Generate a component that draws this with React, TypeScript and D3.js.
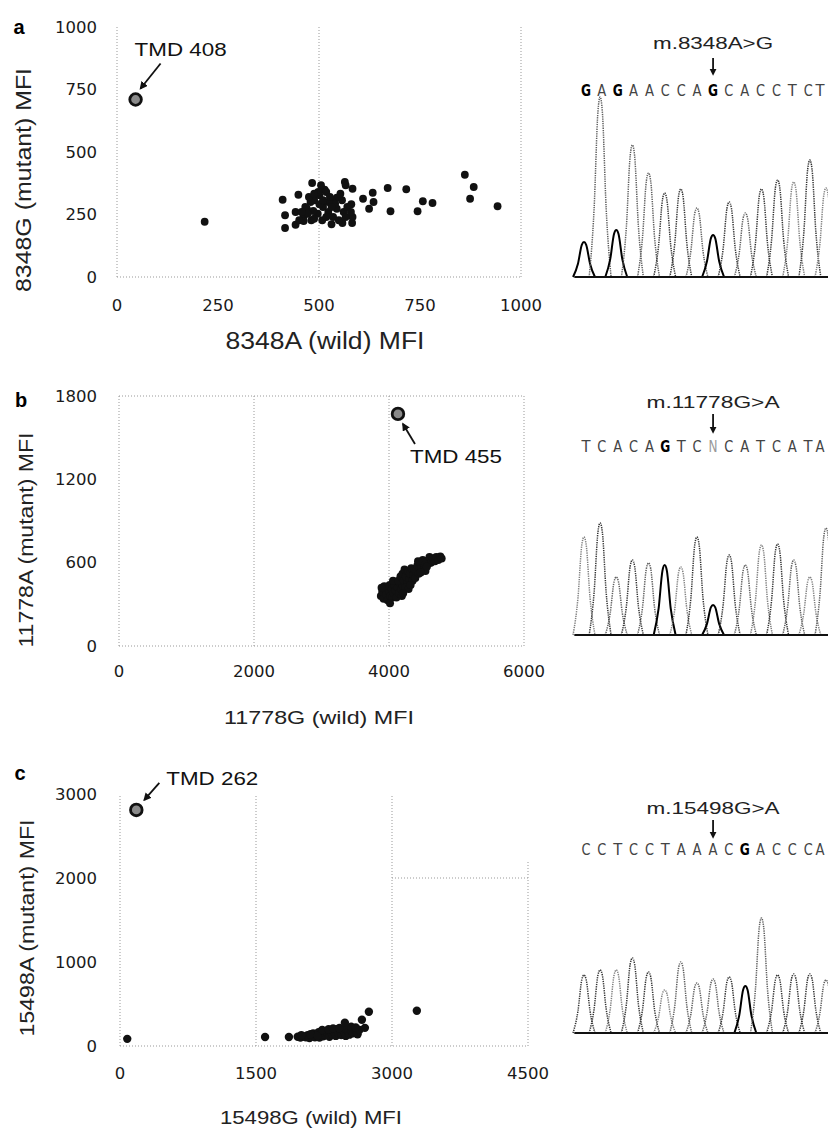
import React from 'react';
import * as d3 from 'd3';

// ---------- DATA ----------
// Panel a: 8348A (wild) vs 8348G (mutant) MFI
const aOutlier: [number, number] = [46, 710];
const aPoints: [number, number][] = [
  [217, 221], [410, 309], [416, 247], [416, 196], [449, 329], [442, 260], [442, 209],
  [609, 313], [633, 337], [635, 300], [624, 273], [670, 356], [677, 263], [716, 351],
  [744, 263], [757, 303], [781, 296], [861, 409], [883, 360], [874, 313], [942, 283],
  [483, 376], [514, 349], [564, 380], [583, 353], [544, 317], [531, 307], [580, 291],
  [583, 240], [582, 216], [558, 216], [531, 211], [508, 227], [481, 227], [462, 243],
  [470, 273], [488, 307], [501, 327], [510, 280], [523, 260], [544, 273], [561, 260],
  [570, 280], [557, 307], [479, 300], [466, 280], [497, 253], [488, 233], [505, 367],
  [518, 340], [535, 240], [549, 227], [566, 240], [579, 260], [540, 293], [523, 300],
  [501, 291], [486, 264], [472, 253], [462, 224], [451, 227], [457, 260], [475, 320],
  [510, 307], [527, 320], [553, 333], [566, 367], [498, 340], [488, 333], [518, 240],
  [531, 280],
];
const aXTicks = [0, 250, 500, 750, 1000];
const aYTicks = [0, 250, 500, 750, 1000];

// Panel b: 11778G (wild) vs 11778A (mutant) MFI
const bOutlier: [number, number] = [4133, 1671];
const bPoints: [number, number][] = [
  [3880, 360], [3900, 390], [3920, 340], [3950, 410], [3960, 370], [3980, 330], [4000, 395],
  [4010, 440], [4020, 360], [4040, 410], [4050, 350], [4070, 380], [4080, 440], [4100, 400],
  [4110, 350], [4130, 420], [4150, 380], [4160, 460], [4180, 410], [4190, 360], [4200, 440],
  [3930, 430], [3890, 420], [4060, 470], [4140, 470], [4015, 308],
  [4170, 500], [4200, 520], [4220, 470], [4230, 550], [4250, 500], [4270, 450], [4280, 540],
  [4300, 480], [4310, 520], [4330, 560], [4350, 470], [4360, 510], [4380, 550], [4390, 490],
  [4240, 420], [4290, 410], [4320, 440], [4210, 380],
  [4400, 540], [4420, 580], [4440, 520], [4460, 600], [4480, 560], [4500, 620], [4520, 580],
  [4540, 540], [4560, 610], [4580, 590], [4600, 640], [4620, 600], [4650, 630], [4680, 610],
  [4700, 640], [4730, 620], [4760, 645], [4780, 630], [4470, 530], [4510, 600], [4430, 610],
  [4560, 570],
];
const bXTicks = [0, 2000, 4000, 6000];
const bYTicks = [0, 600, 1200, 1800];

// Panel c: 15498G (wild) vs 15498A (mutant) MFI
const cOutlier: [number, number] = [180, 2810];
const cPoints: [number, number][] = [
  [80, 85], [1600, 108], [1863, 108],
  [1960, 110], [1990, 100], [2020, 115], [2050, 105], [2070, 130], [2090, 95], [2110, 120],
  [2130, 150], [2150, 105], [2170, 130], [2190, 165], [2200, 100], [2220, 140], [2240, 115],
  [2260, 170], [2270, 130], [2290, 150], [2310, 110], [2320, 185], [2340, 140], [2360, 165],
  [2380, 120], [2390, 200], [2410, 150], [2430, 175], [2440, 130], [2460, 190], [2480, 150],
  [2490, 120], [2500, 200], [2520, 165], [2530, 135], [2550, 180], [2570, 150], [2590, 200],
  [2610, 170], [2620, 140], [2640, 190], [2000, 130], [2100, 140], [2180, 120], [2230, 190],
  [2300, 200], [2350, 210], [2420, 215], [2550, 230], [2600, 220],
  [2480, 276], [2668, 312], [2701, 216], [2745, 408], [3274, 420],
];
const cXTicks = [0, 1500, 3000, 4500];
const cYTicks = [0, 1000, 2000, 3000];

// Chromatograms: base calls and peak heights
const seqA = 'GAGAACCAGCACCTCT';
const peaksA = [35, 180, 47, 132, 104, 84, 88, 69, 42, 75, 64, 88, 97, 95, 117, 89];
const seqB = 'TCACAGTCNCATCATA';
const peaksB = [98, 112, 58, 75, 72, 70, 68, 98, 30, 80, 70, 90, 91, 75, 58, 107];
const seqC = 'CCTCCTAAACGACCCA';
const peaksC = [58, 63, 63, 75, 61, 43, 71, 50, 54, 56, 47, 115, 58, 59, 59, 53];

// ---------- LAYOUT ----------
const W = 828;
const H = 1129;
const TXT = "'Liberation Sans', Arial, Helvetica, sans-serif";
const TICKF = "'DejaVu Sans', 'Liberation Sans', sans-serif";

type Grid = { x?: [number, number, number][]; y?: [number, number, number][] };

interface ScatterCfg {
  letter: string;
  letterPos: [number, number];
  xDomain: [number, number];
  yDomain: [number, number];
  xRange: [number, number];
  yRange: [number, number];
  xTicks: number[];
  yTicks: number[];
  xTickY: number;
  yTickX: number;
  points: [number, number][];
  outlier: [number, number];
  r: number;
  xTitle: string;
  xTitlePos: [number, number];
  xTitleSize: number;
  xTitleLen: number;
  yTitle: string;
  yTitlePos: [number, number];
  yTitleSize: number;
  yTitleLen: number;
  tmd: string;
  tmdLabel: [number, number];
  arrowFrom: [number, number];
  arrowTo: [number, number];
  grid: Grid;
}

function Scatter({ c }: { c: ScatterCfg }) {
  const x = d3.scaleLinear().domain(c.xDomain).range(c.xRange);
  const y = d3.scaleLinear().domain(c.yDomain).range(c.yRange);
  const ox = x(c.outlier[0]);
  const oy = y(c.outlier[1]);
  const gridLines: JSX.Element[] = [];
  (c.grid.x || []).forEach(([xv, y0, y1], i) =>
    gridLines.push(
      <line key={'gx' + i} x1={x(xv)} x2={x(xv)} y1={y(y0)} y2={y(y1)} stroke="#999" strokeWidth={1} strokeDasharray="1,2" />
    )
  );
  (c.grid.y || []).forEach(([yv, x0, x1], i) =>
    gridLines.push(
      <line key={'gy' + i} y1={y(yv)} y2={y(yv)} x1={x(x0)} x2={x(x1)} stroke="#999" strokeWidth={1} strokeDasharray="1,2" />
    )
  );
  return (
    <g>
      {gridLines}
      <text x={c.letterPos[0]} y={c.letterPos[1]} fontFamily={TXT} fontWeight="bold" fontSize={20} textAnchor="middle" dominantBaseline="central">{c.letter}</text>
      {c.yTicks.map((t) => (
        <text key={'yt' + t} x={c.yTickX} y={y(t)} fontFamily={TICKF} fontSize={16.5} fill="#1a1a1a" textAnchor="end" dominantBaseline="central">{t}</text>
      ))}
      {c.xTicks.map((t) => (
        <text key={'xt' + t} x={x(t)} y={c.xTickY} fontFamily={TICKF} fontSize={16.5} fill="#1a1a1a" textAnchor="middle" dominantBaseline="central">{t}</text>
      ))}
      <text x={c.xTitlePos[0]} y={c.xTitlePos[1]} fontFamily={TXT} fontSize={c.xTitleSize} fill="#222" textAnchor="middle" dominantBaseline="central" textLength={c.xTitleLen} lengthAdjust="spacingAndGlyphs">{c.xTitle}</text>
      <text transform={`translate(${c.yTitlePos[0]},${c.yTitlePos[1]}) rotate(-90)`} fontFamily={TXT} fontSize={c.yTitleSize} fill="#222" textAnchor="middle" dominantBaseline="central" textLength={c.yTitleLen} lengthAdjust="spacingAndGlyphs">{c.yTitle}</text>
      {c.points.map((p, i) => (
        <circle key={'p' + i} cx={x(p[0])} cy={y(p[1])} r={c.r} fill="#111" />
      ))}
      <circle cx={ox} cy={oy} r={5.8} fill="#8a8a8a" stroke="#111" strokeWidth={2.8} />
      <line x1={ox + c.arrowFrom[0]} y1={oy + c.arrowFrom[1]} x2={ox + c.arrowTo[0]} y2={oy + c.arrowTo[1]} stroke="#111" strokeWidth={1.8} markerEnd="url(#ah)" />
      <text x={ox + c.tmdLabel[0]} y={oy + c.tmdLabel[1]} fontFamily={TXT} fontSize={19} fill="#111" dominantBaseline="central" textLength={92} lengthAdjust="spacingAndGlyphs">{c.tmd}</text>
    </g>
  );
}

interface ChromCfg {
  title: string;
  titleY: number;
  titleLen: number;
  arrowY: [number, number];
  seqY: number;
  baseY: number;
  seq: string;
  peaks: number[];
}

const chanStyle: Record<string, { stroke: string; dash: string; w: number }> = {
  G: { stroke: '#000', dash: '', w: 2 },
  N: { stroke: '#000', dash: '', w: 2 },
  A: { stroke: '#5e5e5e', dash: '1.3,1', w: 1.5 },
  C: { stroke: '#333', dash: '1.3,1', w: 1.5 },
  T: { stroke: '#808080', dash: '1.3,1', w: 1.5 },
};

function Chrom({ c }: { c: ChromCfg }) {
  const x = d3.scaleLinear().domain([0, 15]).range([584, 826]);
  const xs = d3.scaleLinear().domain([0, 15]).range([586, 824]);
  const y = d3.scaleLinear().domain([0, 100]).range([c.baseY, c.baseY - 100]);
  const line = d3
    .line<[number, number]>()
    .x((d) => x(d[0]))
    .y((d) => y(d[1]))
    .curve(d3.curveMonotoneX);
  const hw = 0.68;
  const mid = 8;
  const ax = x(mid);
  return (
    <g>
      <text x={ax} y={c.titleY} fontFamily={TXT} fontSize={17} fill="#222" textAnchor="middle" dominantBaseline="central" textLength={c.titleLen} lengthAdjust="spacingAndGlyphs">{c.title}</text>
      <line x1={ax} x2={ax} y1={c.arrowY[0]} y2={c.arrowY[1] - 6} stroke="#111" strokeWidth={1.8} markerEnd="url(#ah2)" />
      {c.seq.split('').map((ch, i) => (
        <text key={'s' + i} x={Math.min(xs(i), 820)} y={c.seqY} fontFamily="'DejaVu Sans Condensed', 'DejaVu Sans', sans-serif" fontSize={16} fontWeight={ch === 'G' ? 'bold' : 'normal'} fill={ch === 'G' ? '#000' : ch === 'N' ? '#999' : '#444'} textAnchor="middle" dominantBaseline="central" textLength={ch === 'G' ? 10 : 9} lengthAdjust="spacingAndGlyphs">{ch}</text>
      ))}
      {c.peaks.map((h, i) => {
        const ch = c.seq[i];
        const st = chanStyle[ch] || chanStyle.A;
        const pts: [number, number][] = [
          [i - hw, 0], [i - hw * 0.55, h * 0.38], [i - hw * 0.2, h * 0.92], [i, h],
          [i + hw * 0.2, h * 0.92], [i + hw * 0.55, h * 0.38], [i + hw, 0],
        ];
        return <path key={'pk' + i} d={line(pts) || ''} fill="none" stroke={st.stroke} strokeWidth={st.w} strokeDasharray={st.dash} />;
      })}
      <line x1={x(-0.6)} x2={W} y1={c.baseY} y2={c.baseY} stroke="#111" strokeWidth={2} />
    </g>
  );
}

const panelA: ScatterCfg = {
  letter: 'a', letterPos: [19, 27],
  xDomain: [0, 1000], yDomain: [0, 1000], xRange: [117, 521], yRange: [277, 27],
  xTicks: aXTicks, yTicks: aYTicks, xTickY: 305, yTickX: 97,
  points: aPoints, outlier: aOutlier, r: 3.9,
  xTitle: '8348A (wild) MFI', xTitlePos: [325, 341], xTitleSize: 23, xTitleLen: 199,
  yTitle: '8348G (mutant) MFI', yTitlePos: [23, 180], yTitleSize: 22, yTitleLen: 224,
  tmd: 'TMD 408', tmdLabel: [-1, -50], arrowFrom: [25, -36], arrowTo: [5, -11],
  grid: { x: [[0, 0, 1000], [500, 0, 1000], [1000, 0, 1000]], y: [[0, 0, 1000]] },
};

const panelB: ScatterCfg = {
  letter: 'b', letterPos: [21, 400],
  xDomain: [0, 6000], yDomain: [0, 1800], xRange: [119, 524], yRange: [646, 396],
  xTicks: bXTicks, yTicks: bYTicks, xTickY: 671, yTickX: 97,
  points: bPoints, outlier: bOutlier, r: 4,
  xTitle: '11778G (wild) MFI', xTitlePos: [319, 717], xTitleSize: 19, xTitleLen: 190,
  yTitle: '11778A (mutant) MFI', yTitlePos: [26, 540], yTitleSize: 19.5, yTitleLen: 215,
  tmd: 'TMD 455', tmdLabel: [12, 43], arrowFrom: [17, 30], arrowTo: [5, 10],
  grid: {
    x: [[0, 0, 1800], [2000, 0, 1800], [4000, 0, 1800], [6000, 0, 1800]],
    y: [[0, 0, 6000], [1800, 0, 6000]],
  },
};

const panelC: ScatterCfg = {
  letter: 'c', letterPos: [20, 773],
  xDomain: [0, 4500], yDomain: [0, 3000], xRange: [120, 528], yRange: [1046, 794],
  xTicks: cXTicks, yTicks: cYTicks, xTickY: 1073, yTickX: 97,
  points: cPoints, outlier: cOutlier, r: 4.2,
  xTitle: '15498G (wild) MFI', xTitlePos: [311, 1117], xTitleSize: 19, xTitleLen: 182,
  yTitle: '15498A (mutant) MFI', yTitlePos: [27, 928], yTitleSize: 19.5, yTitleLen: 217,
  tmd: 'TMD 262', tmdLabel: [30, -31], arrowFrom: [23, -27], arrowTo: [8, -10],
  grid: {
    x: [[0, 0, 3000], [1500, 0, 3000], [3000, 0, 3000], [4500, 0, 2200]],
    y: [[0, 0, 4500], [2000, 3000, 4500]],
  },
};

const chromA: ChromCfg = {
  title: 'm.8348A>G', titleY: 43, titleLen: 120, arrowY: [58, 76], seqY: 90, baseY: 277,
  seq: seqA, peaks: peaksA,
};
const chromB: ChromCfg = {
  title: 'm.11778G>A', titleY: 402, titleLen: 133, arrowY: [414, 434], seqY: 446, baseY: 635,
  seq: seqB, peaks: peaksB,
};
const chromC: ChromCfg = {
  title: 'm.15498G>A', titleY: 808, titleLen: 133, arrowY: [820, 839], seqY: 849, baseY: 1033,
  seq: seqC, peaks: peaksC,
};

export default function App() {
  return (
    <svg width={W} height={H} viewBox={`0 0 ${W} ${H}`} style={{ position: 'absolute', left: 0, top: 0, background: '#fff' }}>
      <defs>
        <marker id="ah" viewBox="0 0 10 10" refX="8" refY="5" markerWidth="4.5" markerHeight="4.5" orient="auto" markerUnits="strokeWidth">
          <path d="M0,0 L10,5 L0,10 z" fill="#111" />
        </marker>
        <marker id="ah2" viewBox="0 0 10 10" refX="2" refY="5" markerWidth="4" markerHeight="4" orient="auto" markerUnits="strokeWidth">
          <path d="M0,0 L10,5 L0,10 z" fill="#111" />
        </marker>
      </defs>
      <rect width={W} height={H} fill="#fff" />
      <Scatter c={panelA} />
      <Scatter c={panelB} />
      <Scatter c={panelC} />
      <Chrom c={chromA} />
      <Chrom c={chromB} />
      <Chrom c={chromC} />
    </svg>
  );
}
